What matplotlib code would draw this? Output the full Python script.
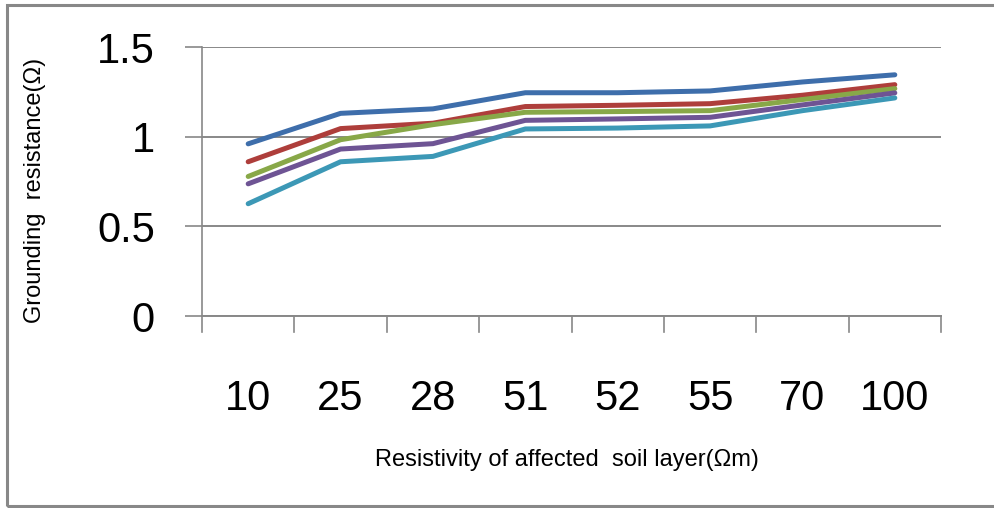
import matplotlib
matplotlib.use("Agg")
import matplotlib.pyplot as plt
from matplotlib.patches import Rectangle

# Resistivity of the affected soil layer (Ωm) – category labels
categories = ["10", "25", "28", "51", "52", "55", "70", "100"]

# Grounding resistance (Ω) for each series
series_1 = [0.96, 1.13, 1.155, 1.245, 1.245, 1.255, 1.305, 1.345]
series_2 = [0.86, 1.045, 1.075, 1.168, 1.175, 1.184, 1.231, 1.29]
series_3 = [0.778, 0.983, 1.067, 1.136, 1.14, 1.145, 1.207, 1.268]
series_4 = [0.737, 0.931, 0.961, 1.091, 1.099, 1.108, 1.177, 1.244]
series_5 = [0.626, 0.86, 0.89, 1.043, 1.048, 1.06, 1.145, 1.216]

y_ticks = [0, 0.5, 1, 1.5]
y_tick_labels = ["0", "0.5", "1", "1.5"]

colors = ["#3E6EAB", "#AE3E3B", "#88A848", "#6E5494", "#3C98B6"]

plt.rcParams["font.family"] = ["Liberation Sans", "DejaVu Sans"]

fig = plt.figure(figsize=(9.94, 5.08), dpi=100)
ax = fig.add_axes([202 / 994, 1 - 316 / 508, (941 - 202) / 994, (316 - 47) / 508])

x = list(range(len(categories)))
for vals, c in zip([series_1, series_2, series_3, series_4, series_5], colors):
    ax.plot(x, vals, color=c, lw=3.6, solid_capstyle="round", solid_joinstyle="round", zorder=3)

ax.set_xlim(-0.5, len(categories) - 0.5)
ax.set_ylim(0, 1.5)

ax.set_yticks(y_ticks)
ax.set_yticklabels(y_tick_labels, fontsize=30)
ax.set_xticks(x)
ax.set_xticklabels(categories, fontsize=30)
ax.tick_params(axis="x", length=0, pad=45)
ax.tick_params(axis="y", length=12, width=1.2, color="#888888", pad=22)

# category separators below the axis
for b in [i - 0.5 for i in range(len(categories) + 1)]:
    ax.plot([b, b], [0, -0.09], color="#888888", lw=1.2, clip_on=False, zorder=2)

ax.yaxis.grid(True, color="#888888", lw=1.4)
ax.set_axisbelow(True)
for side in ["top", "right"]:
    ax.spines[side].set_visible(False)
ax.spines["left"].set_color("#888888")
ax.spines["left"].set_linewidth(1.2)
ax.spines["bottom"].set_color("#888888")
ax.spines["bottom"].set_linewidth(1.4)

fig.text(35 / 994, 1 - 190 / 508, "Grounding  resistance(Ω)", rotation=90,
         ha="center", va="center", fontsize=17)
fig.text(567 / 994, 1 - 460 / 508, "Resistivity of affected  soil layer(Ωm)",
         ha="center", va="center", fontsize=17)

# chart border
fig.patches.append(Rectangle((7 / 994, 1 - 506 / 508), 1.0, (506 - 5) / 508,
                             transform=fig.transFigure, fill=False,
                             edgecolor="#888888", lw=2.2))

fig.savefig("out.png", dpi=100)
